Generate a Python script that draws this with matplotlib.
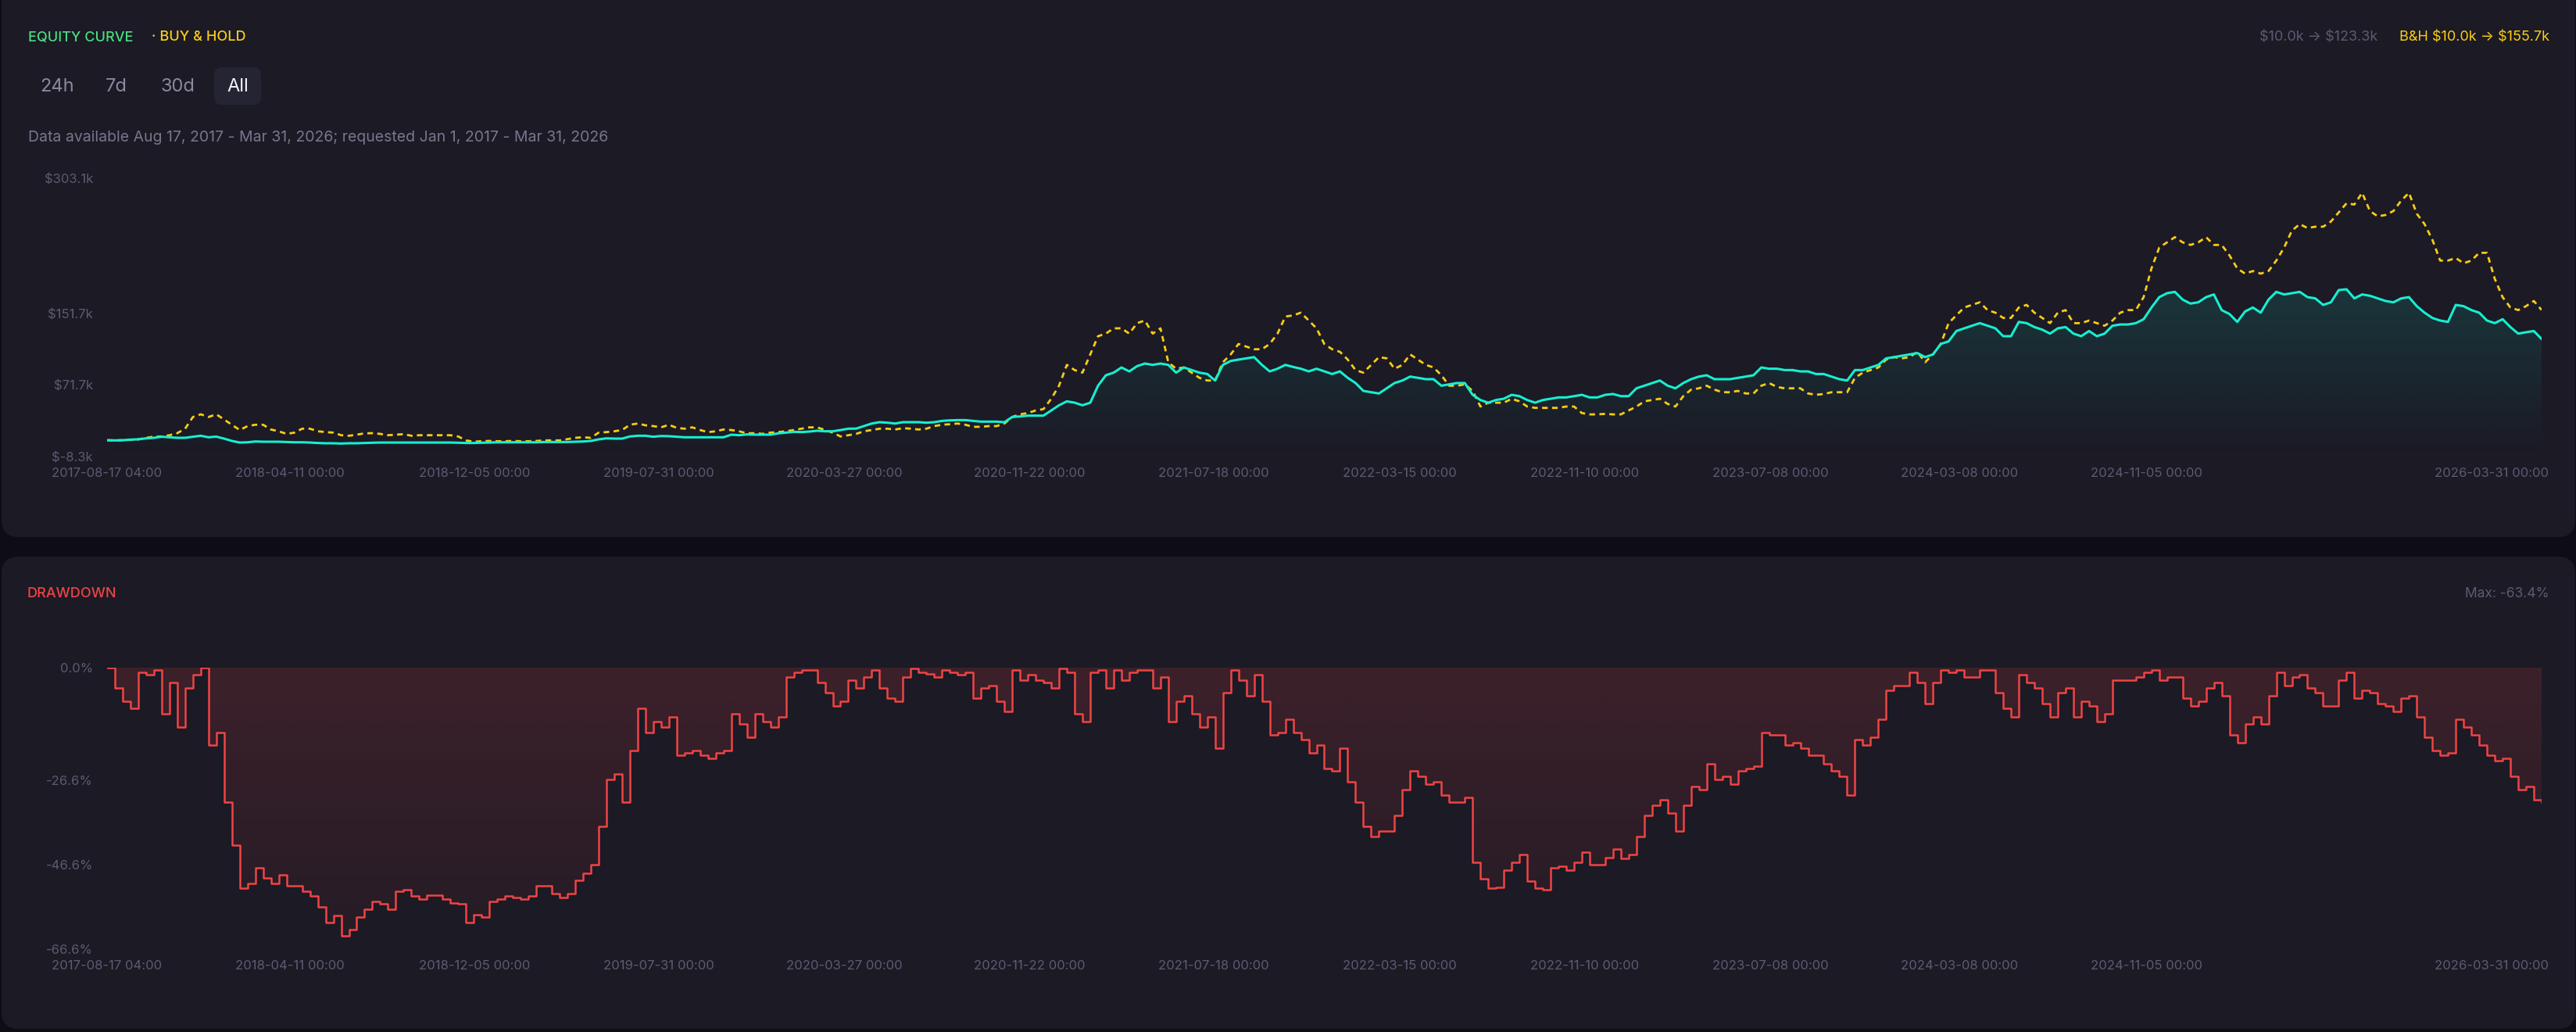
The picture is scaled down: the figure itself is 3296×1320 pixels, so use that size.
import matplotlib
matplotlib.use('Agg')
import matplotlib.pyplot as plt
import matplotlib.dates as mdates
import matplotlib.colors as mcolors
from matplotlib.patches import FancyBboxPatch, PathPatch
from matplotlib.transforms import ScaledTranslation
import numpy as np
import pandas as pd

plt.rcParams['font.family'] = ['Inter', 'DejaVu Sans']

# ---------------- data (values read at a regular time grid) ----------------
start = '2017-08-17 04:00'
end = '2026-03-31 00:00'
n_points = 313

equity = [
    10.0, 9.8, 10.0, 10.7, 11.0, 12.1, 12.7, 13.9, 13.3, 12.7,
    12.7, 13.9, 15.0, 13.3, 14.0, 11.8, 9.2, 7.4, 7.7, 8.6,
    8.3, 8.3, 8.3, 8.0, 7.7, 7.7, 7.4, 6.9, 6.6, 6.6,
    6.3, 6.6, 6.6, 6.9, 7.2, 7.4, 7.4, 7.4, 7.4, 7.4,
    7.4, 7.4, 7.4, 7.4, 7.4, 7.2, 6.9, 6.9, 7.2, 7.4,
    7.7, 7.7, 7.7, 7.7, 7.7, 7.7, 8.0, 8.0, 8.0, 8.0,
    8.3, 8.6, 9.2, 11.0, 12.1, 11.8, 11.8, 14.2, 15.0, 15.0,
    13.9, 14.7, 14.5, 13.9, 13.3, 13.3, 13.3, 13.3, 13.3, 13.3,
    16.2, 15.6, 16.5, 16.2, 16.2, 16.2, 17.7, 18.5, 19.4, 19.1,
    19.7, 20.6, 20.0, 20.0, 21.4, 22.9, 23.0, 25.8, 28.7, 30.2,
    29.6, 28.7, 30.2, 30.2, 30.2, 29.6, 30.2, 31.6, 32.2, 32.5,
    32.5, 31.6, 30.8, 30.8, 30.8, 30.2, 36.0, 36.6, 37.5, 37.5,
    37.5, 43.3, 49.1, 53.5, 52.0, 49.1, 52.0, 71.0, 82.7, 85.6,
    91.4, 87.0, 92.9, 95.8, 94.3, 95.8, 94.3, 85.6, 91.4, 88.5,
    85.6, 84.1, 76.8, 94.3, 98.7, 100.2, 101.6, 103.0, 94.3, 87.0,
    90.0, 94.3, 92.0, 90.0, 87.0, 90.0, 87.0, 84.1, 87.0, 79.8,
    74.0, 65.2, 63.7, 62.3, 68.1, 74.0, 76.8, 81.2, 79.8, 78.3,
    78.3, 71.0, 72.5, 74.0, 74.0, 60.8, 55.0, 52.0, 55.0, 56.4,
    60.8, 59.3, 55.0, 52.0, 55.0, 56.4, 57.9, 57.9, 59.3, 60.8,
    57.9, 57.9, 60.8, 61.7, 59.3, 59.3, 68.1, 71.0, 74.0, 76.8,
    71.0, 68.1, 74.0, 78.3, 81.2, 82.7, 78.3, 78.3, 78.3, 79.8,
    81.2, 82.7, 91.4, 90.0, 90.0, 88.5, 88.5, 87.0, 87.0, 84.1,
    84.1, 81.2, 78.3, 76.8, 88.5, 88.5, 91.4, 94.3, 101.6, 103.0,
    104.5, 106.0, 107.5, 103.0, 106.0, 117.7, 120.6, 132.2, 135.2, 138.1,
    141.0, 138.1, 135.2, 126.4, 126.4, 142.4, 141.0, 136.6, 133.7, 129.3,
    135.2, 136.6, 129.3, 126.4, 132.2, 126.4, 129.3, 138.1, 139.5, 139.5,
    141.0, 145.4, 158.5, 170.1, 174.5, 176.0, 167.3, 162.9, 164.3, 170.1,
    173.1, 155.6, 151.2, 142.4, 154.1, 158.5, 152.7, 167.3, 176.0, 173.1,
    174.5, 176.0, 170.1, 168.7, 161.4, 164.3, 178.0, 178.9, 168.7, 173.1,
    171.6, 168.7, 165.8, 164.3, 168.7, 170.1, 160.0, 152.7, 146.8, 143.9,
    142.4, 161.4, 160.0, 155.6, 152.7, 143.9, 141.0, 145.4, 136.6, 129.3,
    130.8, 132.2, 123.3]

buy_hold = [
    10.0, 9.8, 10.0, 10.4, 11.0, 12.7, 14.0, 14.2, 15.6, 17.9,
    22.9, 36.0, 39.0, 36.0, 39.0, 33.1, 27.3, 21.4, 25.8, 27.3,
    27.3, 22.0, 20.0, 17.1, 18.5, 22.9, 22.9, 20.0, 19.1, 18.5,
    15.6, 15.0, 16.2, 17.7, 17.9, 17.1, 15.6, 16.2, 16.8, 15.0,
    15.6, 15.6, 15.6, 15.6, 15.6, 14.2, 9.8, 8.3, 8.9, 9.2,
    8.9, 8.9, 9.2, 8.9, 8.9, 9.2, 9.8, 9.8, 9.8, 11.2,
    12.7, 13.3, 12.7, 18.5, 19.1, 20.0, 21.4, 27.3, 28.7, 26.7,
    25.8, 24.4, 27.3, 23.8, 22.9, 24.4, 21.4, 19.1, 20.0, 22.0,
    21.4, 20.0, 17.7, 17.9, 17.1, 18.5, 19.1, 20.0, 21.4, 22.9,
    24.4, 24.4, 21.4, 18.5, 14.2, 15.6, 17.1, 20.0, 21.4, 22.9,
    22.9, 22.0, 23.5, 22.9, 22.0, 22.9, 25.8, 27.3, 27.9, 28.7,
    27.3, 25.0, 25.0, 25.8, 25.8, 28.7, 36.0, 39.0, 40.4, 43.3,
    44.8, 56.4, 71.0, 94.3, 88.5, 85.6, 106.0, 126.4, 129.3, 135.2,
    135.2, 129.3, 141.0, 143.9, 129.3, 135.2, 97.3, 90.0, 91.4, 85.6,
    79.8, 76.8, 76.8, 97.3, 106.0, 117.7, 114.7, 111.8, 111.8, 117.7,
    129.3, 148.3, 149.7, 152.7, 143.9, 135.2, 117.6, 111.8, 108.9, 100.2,
    88.5, 85.6, 94.3, 103.0, 101.6, 90.0, 94.3, 106.0, 100.2, 94.3,
    91.4, 82.7, 71.0, 71.0, 72.5, 65.2, 47.7, 52.0, 52.0, 52.0,
    56.4, 53.5, 47.7, 46.2, 46.2, 46.2, 46.2, 47.7, 47.7, 40.4,
    38.9, 38.9, 39.5, 38.9, 38.9, 43.3, 47.7, 53.5, 55.0, 56.4,
    50.6, 47.7, 59.3, 66.6, 68.1, 71.0, 66.6, 63.7, 63.7, 65.2,
    62.3, 62.3, 71.0, 74.0, 69.6, 68.1, 68.1, 68.1, 62.3, 60.8,
    61.7, 63.7, 63.7, 63.7, 79.8, 85.6, 88.5, 91.4, 100.2, 103.0,
    101.6, 103.0, 108.9, 97.3, 106.0, 117.7, 141.0, 149.7, 158.5, 161.4,
    164.3, 155.6, 152.7, 146.8, 146.8, 158.5, 161.4, 152.7, 146.8, 141.0,
    152.7, 155.6, 141.0, 141.0, 143.9, 141.0, 138.1, 143.9, 152.7, 155.6,
    155.6, 170.1, 202.2, 225.6, 231.4, 237.2, 231.4, 228.5, 231.4, 237.2,
    228.5, 228.5, 216.8, 202.2, 196.4, 199.3, 196.4, 199.3, 211.0, 225.6,
    244.5, 251.8, 247.4, 248.9, 248.9, 254.7, 264.9, 275.1, 273.7, 286.8,
    266.4, 260.5, 262.0, 266.4, 278.0, 286.8, 263.5, 251.8, 234.3, 211.0,
    211.0, 213.9, 208.0, 211.0, 219.7, 219.7, 190.5, 170.1, 158.5, 155.6,
    160.0, 165.8, 155.7]

drawdown = [
    0.0, -4.8, -7.9, -9.7, -1.1, -1.7, -0.5, -11.0, -3.6, -14.0,
    -4.8, -1.7, 0.0, -18.4, -15.3, -31.9, -42.0, -52.2, -51.0, -47.3,
    -49.8, -51.0, -49.0, -51.6, -51.6, -52.9, -54.0, -56.6, -60.3, -58.7,
    -63.4, -62.0, -59.0, -57.2, -55.3, -55.9, -57.2, -52.9, -52.6, -54.1,
    -54.7, -53.8, -53.8, -54.7, -55.6, -55.9, -60.3, -58.4, -59.0, -55.3,
    -54.7, -54.1, -54.4, -54.7, -54.1, -51.6, -51.6, -53.5, -54.4, -53.5,
    -50.4, -48.6, -46.7, -37.5, -26.4, -25.1, -31.9, -19.6, -9.7, -15.3,
    -12.8, -14.0, -11.6, -20.8, -20.2, -19.6, -20.8, -21.4, -20.2, -19.6,
    -11.0, -13.4, -16.5, -11.0, -12.8, -14.0, -11.6, -2.3, -1.1, -0.5,
    -0.5, -3.6, -6.0, -9.1, -7.9, -3.0, -4.8, -2.3, -0.5, -4.8,
    -7.3, -7.9, -2.3, -0.2, -1.1, -1.4, -2.3, -0.5, -1.1, -1.7,
    -1.1, -7.3, -4.8, -4.2, -7.9, -10.4, -0.5, -3.0, -1.7, -3.0,
    -3.6, -4.8, -0.2, -1.1, -11.0, -12.8, -1.1, -0.5, -4.8, -0.5,
    -3.0, -1.1, -0.5, -0.5, -4.8, -2.3, -12.8, -7.9, -6.7, -11.0,
    -14.0, -11.6, -19.0, -6.0, -0.5, -3.0, -6.7, -1.7, -7.9, -15.9,
    -15.3, -12.2, -15.3, -17.1, -20.2, -18.4, -23.9, -24.5, -19.0, -27.0,
    -31.9, -37.5, -39.9, -38.7, -38.7, -35.0, -28.8, -24.5, -25.8, -27.6,
    -27.0, -30.1, -31.9, -31.9, -30.7, -46.1, -50.0, -52.2, -52.0, -47.9,
    -46.0, -44.2, -50.5, -52.2, -52.5, -47.3, -47.0, -47.9, -46.0, -43.6,
    -46.7, -46.7, -44.9, -43.0, -45.2, -44.2, -40.0, -35.0, -32.5, -31.3,
    -34.4, -38.7, -32.5, -28.2, -28.8, -22.7, -26.4, -25.8, -27.6, -24.5,
    -23.9, -23.3, -15.3, -15.9, -15.9, -18.4, -17.7, -19.0, -20.8, -20.8,
    -22.7, -24.5, -25.8, -30.1, -17.1, -18.4, -16.5, -12.2, -5.4, -4.2,
    -4.2, -1.1, -3.6, -8.5, -3.6, -0.5, -1.1, -0.5, -2.3, -2.3,
    -0.5, -0.5, -6.0, -9.7, -11.6, -1.7, -3.6, -4.8, -8.5, -11.6,
    -6.0, -4.8, -11.6, -7.9, -9.1, -12.8, -11.0, -3.0, -3.0, -3.0,
    -2.3, -1.1, -0.5, -3.0, -2.3, -2.3, -7.3, -9.1, -7.9, -4.8,
    -3.6, -6.7, -15.9, -17.7, -13.4, -11.6, -13.4, -6.7, -1.1, -4.2,
    -2.3, -1.7, -4.8, -6.0, -9.1, -9.1, -3.0, -1.1, -7.3, -5.4,
    -6.0, -8.5, -9.1, -10.4, -7.3, -6.7, -11.6, -16.5, -19.6, -20.8,
    -20.2, -12.2, -14.0, -15.9, -18.4, -20.8, -22.1, -21.4, -25.8, -28.8,
    -28.2, -31.3, -31.9]

equity_ticks = [-8.3, 71.7, 151.7, 303.1]
drawdown_ticks = [0.0, -26.6, -46.6, -66.6]
x_tick_labels = ['2017-08-17 04:00', '2018-04-11 00:00', '2018-12-05 00:00', '2019-07-31 00:00',
                 '2020-03-27 00:00', '2020-11-22 00:00', '2021-07-18 00:00', '2022-03-15 00:00',
                 '2022-11-10 00:00', '2023-07-08 00:00', '2024-03-08 00:00', '2024-11-05 00:00',
                 '2026-03-31 00:00']

# ---------------- style ----------------
W, H = 3296, 1320
BG = '#0e0d16'
CARD = '#1b1a25'
GREY = '#5c5b71'
TXT = '#77768c'
TEAL = '#16efd0'
GOLD = '#facc15'
GREEN = '#4ade80'
RED = '#ef4444'

dates = pd.date_range(start, end, periods=n_points)

fig = plt.figure(figsize=(W / 100, H / 100), dpi=100, facecolor=BG)

bg = fig.add_axes([0, 0, 1, 1], zorder=0)
bg.set_xlim(0, W)
bg.set_ylim(H, 0)
bg.axis('off')

for (x0, y0, x1, y1) in [(2, -30, 3295, 687), (2, 712, 3295, 1316)]:
    bg.add_patch(FancyBboxPatch((x0, y0), x1 - x0, y1 - y0,
                                boxstyle='round,pad=0,rounding_size=22',
                                facecolor=CARD, edgecolor='none'))

# header texts
kw = dict(parse_math=False, va='center')
bg.text(36, 48, 'EQUITY CURVE', color=GREEN, fontsize=13, fontweight='medium', **kw)
bg.text(194, 48, '· BUY & HOLD', color=GOLD, fontsize=13, fontweight='medium', **kw)
bg.text(3262, 48, 'B&H $10.0k → $155.7k', color=GOLD, fontsize=13, ha='right', **kw)
bg.text(3042, 48, '$10.0k → $123.3k', color=GREY, fontsize=13, ha='right', **kw)

bg.add_patch(FancyBboxPatch((274, 86), 60, 48, boxstyle='round,pad=0,rounding_size=10',
                            facecolor='#252433', edgecolor='none'))
for label, cx, col in [('24h', 73, '#8a899e'), ('7d', 149, '#8a899e'),
                       ('30d', 227, '#8a899e'), ('All', 304, '#f2f2f7')]:
    bg.text(cx, 111, label, color=col, fontsize=17, ha='center', **kw)

bg.text(36, 176, 'Data available Aug 17, 2017 - Mar 31, 2026; requested Jan 1, 2017 - Mar 31, 2026',
        color=TXT, fontsize=14, **kw)

bg.text(35, 759, 'DRAWDOWN', color=RED, fontsize=13, fontweight='medium', **kw)
bg.text(3262, 759, 'Max: -63.4%', color=GREY, fontsize=12.5, ha='right', **kw)


def gradient_fill(ax, x, y, base, color, a_top, a_bot, ybot, ytop, step=None):
    poly = ax.fill_between(x, y, base, facecolor='none', edgecolor='none', step=step)
    path = poly.get_paths()[0]
    rgb = mcolors.to_rgb(color)
    n = 256
    grad = np.zeros((n, 1, 4))
    grad[..., :3] = rgb
    grad[:, 0, 3] = np.linspace(a_bot, a_top, n)
    xn = mdates.date2num(x)
    im = ax.imshow(grad, extent=[xn[0], xn[-1], ybot, ytop], origin='lower',
                   aspect='auto', zorder=1, interpolation='bilinear')
    patch = PathPatch(path, transform=ax.transData, facecolor='none', edgecolor='none')
    ax.add_patch(patch)
    im.set_clip_path(patch)


def style_axis(ax):
    ax.set_facecolor('none')
    for s in ax.spines.values():
        s.set_visible(False)
    ax.tick_params(axis='both', length=0, colors=GREY, labelsize=12)
    ax.tick_params(axis='y', pad=13)
    ax.tick_params(axis='x', pad=10)
    xt = [pd.Timestamp(s) for s in x_tick_labels]
    ax.set_xticks(xt)
    ax.set_xticklabels(x_tick_labels)
    ax.set_xlim(dates[0], dates[-1])
    last = ax.get_xticklabels()[-1]
    last.set_ha('right')
    last.set_transform(last.get_transform() + ScaledTranslation(9 / 100, 0, fig.dpi_scale_trans))


# ---------------- equity chart ----------------
ax1 = fig.add_axes([137 / W, 1 - 584 / H, (3252 - 137) / W, (584 - 228) / H], zorder=2)
ax1.plot(dates, buy_hold, color=GOLD, lw=2.0, dashes=(2.6, 2.0), zorder=3)
ax1.plot(dates, equity, color=TEAL, lw=2.2, zorder=4)
gradient_fill(ax1, dates, equity, equity_ticks[0], TEAL, 0.13, 0.0, equity_ticks[0], max(equity))
ax1.set_ylim(equity_ticks[0], equity_ticks[-1])
ax1.set_yticks(equity_ticks)
ax1.set_yticklabels(['$%.1fk' % v for v in equity_ticks])
style_axis(ax1)

# ---------------- drawdown chart ----------------
ax2 = fig.add_axes([137 / W, 1 - 1214 / H, (3252 - 137) / W, (1214 - 854) / H], zorder=2)
ax2.plot(dates, drawdown, color=RED, lw=1.8, drawstyle='steps-post', zorder=4)
gradient_fill(ax2, dates, drawdown, 0, RED, 0.16, 0.05, min(drawdown), 0, step='post')
ax2.set_ylim(drawdown_ticks[-1], 0)
ax2.set_yticks(drawdown_ticks)
ax2.set_yticklabels(['%.1f%%' % v for v in drawdown_ticks])
style_axis(ax2)

fig.savefig('out.png', dpi=100, facecolor=BG)
